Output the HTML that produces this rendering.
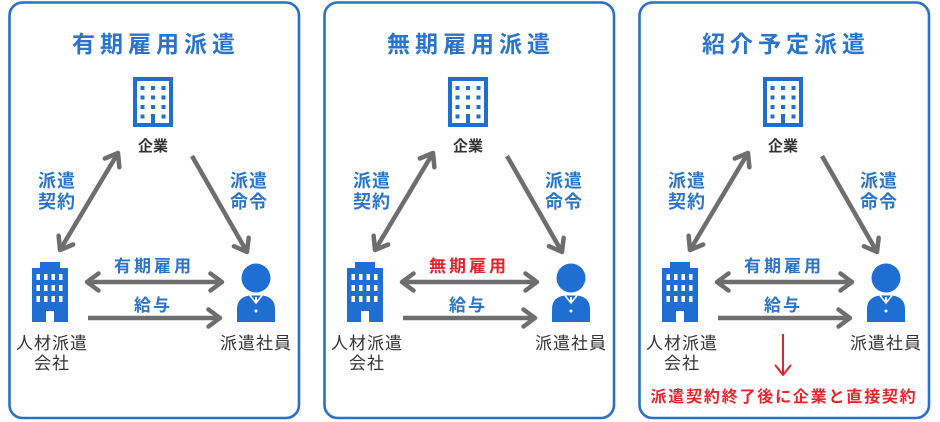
<!DOCTYPE html>
<html><head><meta charset="utf-8">
<style>
html,body{margin:0;padding:0;background:#fff;}
svg{display:block;}
text{font-family:"Liberation Sans","Noto Sans CJK JP",sans-serif;}
</style></head>
<body>
<svg width="940" height="422" viewBox="0 0 940 422" xmlns="http://www.w3.org/2000/svg">
<defs>
<marker id="ah" markerUnits="userSpaceOnUse" markerWidth="24" markerHeight="24" viewBox="0 0 24 24" refX="18" refY="12" orient="auto-start-reverse" style="overflow:visible">
<path d="M6.5,3.5 L18,12 L6.5,20.5" fill="none" stroke="#6e6e6e" stroke-width="4.5" stroke-linecap="round" stroke-linejoin="round"/>
</marker>
<g id="bld1">
<rect x="135" y="79" width="36" height="46" fill="none" stroke="#1f6fd3" stroke-width="4"/>
<g fill="#1f6fd3">
<rect x="140.5" y="86" width="4" height="4"/><rect x="151" y="86" width="4" height="4"/><rect x="161.5" y="86" width="4" height="4"/>
<rect x="140.5" y="95.5" width="4" height="4"/><rect x="151" y="95.5" width="4" height="4"/><rect x="161.5" y="95.5" width="4" height="4"/>
<rect x="140.5" y="105" width="4" height="4"/><rect x="151" y="105" width="4" height="4"/><rect x="161.5" y="105" width="4" height="4"/>
<rect x="140.5" y="114.5" width="4" height="4"/><rect x="151" y="114" width="4" height="11"/><rect x="161.5" y="114.5" width="4" height="4"/>
</g>
</g>
<g id="bld2">
<rect x="40" y="262" width="20" height="8" fill="#1f6fd3"/>
<rect x="32" y="268" width="36" height="54" fill="#1f6fd3"/>
<g fill="#fff">
<rect x="36.5" y="274" width="3.5" height="6"/><rect x="44" y="274" width="3.5" height="6"/><rect x="51.5" y="274" width="3.5" height="6"/><rect x="59" y="274" width="3.5" height="6"/>
<rect x="36.5" y="285" width="3.5" height="6"/><rect x="44" y="285" width="3.5" height="6"/><rect x="51.5" y="285" width="3.5" height="6"/><rect x="59" y="285" width="3.5" height="6"/>
<rect x="36.5" y="296" width="3.5" height="6"/><rect x="44" y="296" width="3.5" height="6"/><rect x="51.5" y="296" width="3.5" height="6"/><rect x="59" y="296" width="3.5" height="6"/>
<rect x="46" y="311" width="8" height="11"/>
</g>
</g>
<g id="person">
<circle cx="256" cy="278" r="14.5" fill="#1f6fd3"/>
<path d="M237,322 L237,309 Q237,297 250,295.5 L262,295.5 Q275,297 275,309 L275,322 Z" fill="#1f6fd3"/>
<path d="M250,295.5 L256,303 L262,295.5" fill="none" stroke="#fff" stroke-width="1.6"/>
<rect x="255" y="297" width="2" height="6" fill="#fff"/>
<circle cx="256" cy="311" r="1.5" fill="#fff"/>
</g>
<g id="common">
<rect x="9.5" y="2.5" width="289.5" height="415.5" rx="13" ry="13" fill="none" stroke="#2b6fc6" stroke-width="2.6"/>
<use href="#bld1"/>
<text x="153" y="151" text-anchor="middle" font-size="15" font-weight="bold" fill="#333">企業</text>
<line x1="118" y1="153" x2="60" y2="250" stroke="#6e6e6e" stroke-width="4.5" marker-start="url(#ah)" marker-end="url(#ah)"/>
<line x1="192" y1="156" x2="247" y2="252" stroke="#6e6e6e" stroke-width="4.5" marker-end="url(#ah)"/>
<text x="57" y="187" text-anchor="middle" font-size="18" font-weight="bold" fill="#2a74c9" letter-spacing="1">派遣</text>
<text x="57" y="208" text-anchor="middle" font-size="18" font-weight="bold" fill="#2a74c9" letter-spacing="1">契約</text>
<text x="249" y="187" text-anchor="middle" font-size="18" font-weight="bold" fill="#2a74c9" letter-spacing="1">派遣</text>
<text x="249" y="208" text-anchor="middle" font-size="18" font-weight="bold" fill="#2a74c9" letter-spacing="1">命令</text>
<use href="#bld2"/>
<use href="#person"/>
<line x1="87" y1="282" x2="222" y2="282" stroke="#6e6e6e" stroke-width="4.5" marker-start="url(#ah)" marker-end="url(#ah)"/>
<line x1="88" y1="318" x2="220" y2="318" stroke="#6e6e6e" stroke-width="4.5" marker-end="url(#ah)"/>
<text x="153" y="311" text-anchor="middle" font-size="17" font-weight="bold" fill="#2a74c9" letter-spacing="2">給与</text>
<text x="52" y="349" text-anchor="middle" font-size="17" fill="#333" letter-spacing="1">人材派遣</text>
<text x="52" y="369" text-anchor="middle" font-size="17" fill="#333" letter-spacing="1">会社</text>
<text x="256" y="349" text-anchor="middle" font-size="17" fill="#333" letter-spacing="1">派遣社員</text>
</g>
</defs>

<!-- Panel 1 -->
<g>
<use href="#common"/>
<text x="156" y="52" text-anchor="middle" font-size="23" font-weight="bold" fill="#2a74c9" letter-spacing="5">有期雇用派遣</text>
<text x="154" y="272" text-anchor="middle" font-size="17" font-weight="bold" fill="#2a74c9" letter-spacing="3">有期雇用</text>
</g>

<!-- Panel 2 -->
<g transform="translate(315,0)">
<use href="#common"/>
<text x="156" y="52" text-anchor="middle" font-size="23" font-weight="bold" fill="#2a74c9" letter-spacing="5">無期雇用派遣</text>
<text x="154" y="272" text-anchor="middle" font-size="17" font-weight="bold" fill="#e8232b" letter-spacing="3">無期雇用</text>
</g>

<!-- Panel 3 -->
<g transform="translate(630,0)">
<use href="#common"/>
<text x="156" y="52" text-anchor="middle" font-size="23" font-weight="bold" fill="#2a74c9" letter-spacing="5">紹介予定派遣</text>
<text x="154" y="272" text-anchor="middle" font-size="17" font-weight="bold" fill="#2a74c9" letter-spacing="3">有期雇用</text>
<line x1="153" y1="334" x2="153" y2="374" stroke="#e8232b" stroke-width="2"/>
<path d="M145.5,365.5 L153,375 L160.5,365.5" fill="none" stroke="#e8232b" stroke-width="2" stroke-linejoin="round" stroke-linecap="round"/>
<text x="154" y="402" text-anchor="middle" font-size="16" font-weight="bold" fill="#e8232b" letter-spacing="1.8">派遣契約終了後に企業と直接契約</text>
</g>
</svg>
</body></html>
